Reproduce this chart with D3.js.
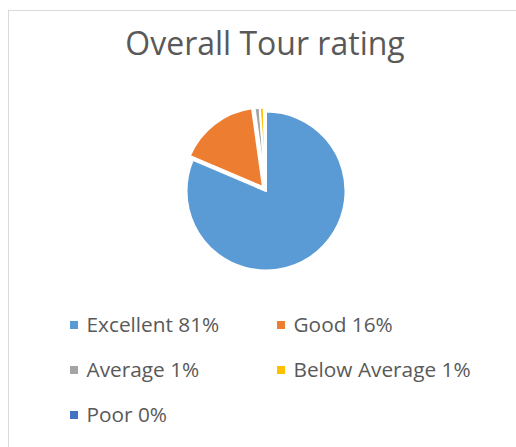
<!DOCTYPE html>
<html>
<head>
<meta charset="utf-8">
<script src="https://cdn.jsdelivr.net/npm/d3@7/dist/d3.min.js"></script>
<style>
  body { margin: 0; background: #fff; }
  text { font-family: "Open Sans", "Liberation Sans", sans-serif; fill: #595959; }
</style>
</head>
<body>
<svg id="chart" width="516" height="447"></svg>
<script>
// ratings data
var categories = ["Excellent", "Good", "Average", "Below Average", "Poor"];
var shares = [81.4, 16.4, 1.0, 0.8, 0.4];
var colors = ["#5B9BD5", "#ED7D31", "#A5A5A5", "#FFC000", "#4472C4"];
var exploded = [0, 5, 4, 4, 4];

var svg = d3.select("#chart");

// chart area border (only left/top show in the crop)
svg.append("rect")
    .attr("x", 8.5).attr("y", 10.5)
    .attr("width", 560).attr("height", 500)
    .attr("fill", "#fff")
    .attr("stroke", "#d9d9d9");

svg.append("text")
    .attr("x", 265).attr("y", 55)
    .attr("text-anchor", "middle")
    .style("font-size", "32px")
    .text("Overall Tour rating");

var cx = 266, cy = 191, radius = 79.5;

var data = categories.map(function(c, i) {
    return {name: c, value: shares[i], color: colors[i], pull: exploded[i]};
});

var pie = d3.pie()
    .sort(null)
    .value(function(d) { return d.value; });

var arc = d3.arc()
    .innerRadius(0)
    .outerRadius(radius);

var g = svg.append("g").attr("transform", "translate(" + cx + "," + cy + ")");

g.selectAll("path")
    .data(pie(data))
    .enter().append("path")
    .attr("d", arc)
    .attr("fill", function(d) { return d.data.color; })
    .attr("stroke", "#fff")
    .attr("stroke-width", 2)
    .attr("stroke-linejoin", "round")
    .attr("transform", function(d) {
        var a = (d.startAngle + d.endAngle) / 2;
        return "translate(" + (Math.sin(a) * d.data.pull) + "," + (-Math.cos(a) * d.data.pull) + ")";
    });

// legend, two columns
var col = d3.scaleOrdinal().domain([0, 1]).range([70, 277]);
var row = d3.scaleLinear().domain([0, 1]).range([332, 377]);

var item = svg.append("g").selectAll("g")
    .data(data)
    .enter().append("g")
    .attr("transform", function(d, i) {
        return "translate(" + col(i % 2) + "," + row(Math.floor(i / 2)) + ")";
    });

item.append("rect")
    .attr("x", 0).attr("y", -11)
    .attr("width", 8).attr("height", 8)
    .attr("fill", function(d) { return d.color; });

item.append("text")
    .attr("x", 16.5)
    .style("font-size", "20.8px")
    .text(function(d) { return d.name + " " + Math.round(d.value) + "%"; });
</script>
</body>
</html>
